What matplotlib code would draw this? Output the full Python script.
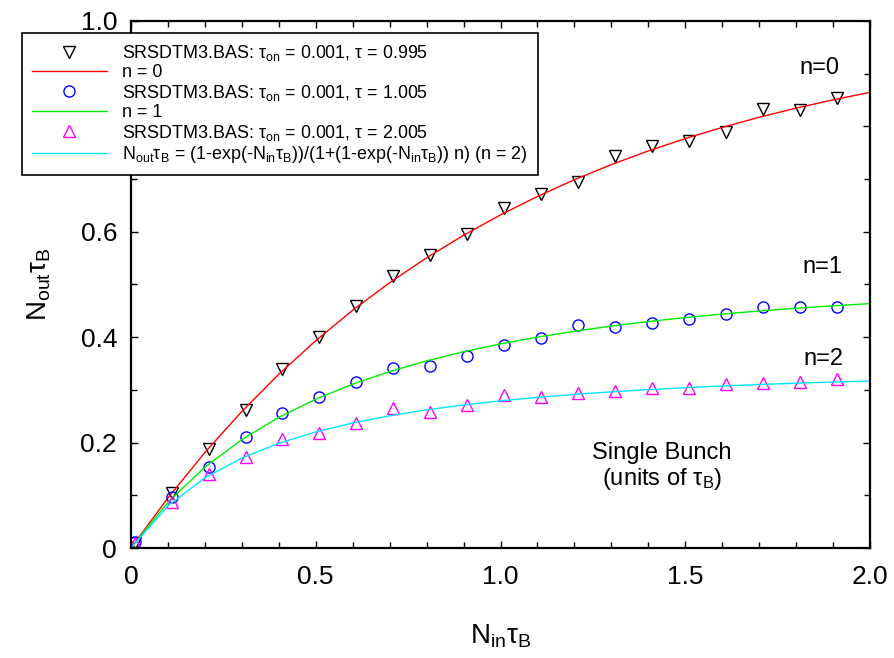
import numpy as np
import matplotlib
matplotlib.use("Agg")
import matplotlib.pyplot as plt
from matplotlib.ticker import MultipleLocator

plt.rcParams['font.family'] = ['Liberation Sans', 'DejaVu Sans']
plt.rcParams['mathtext.fontset'] = 'custom'
plt.rcParams['mathtext.rm'] = 'Liberation Sans'
plt.rcParams['mathtext.it'] = 'Liberation Sans'
plt.rcParams['mathtext.default'] = 'regular'

# ---- data ----
x_pts = [0.01, 0.11, 0.21, 0.31, 0.41, 0.51, 0.61, 0.71, 0.81, 0.91,
         1.01, 1.11, 1.21, 1.31, 1.41, 1.51, 1.61, 1.71, 1.81, 1.91]
y_tau0995 = [0.010, 0.104, 0.187, 0.262, 0.339, 0.400, 0.460, 0.516, 0.556, 0.596,
             0.646, 0.671, 0.694, 0.744, 0.763, 0.772, 0.790, 0.833, 0.831, 0.853]
y_tau1005 = [0.011, 0.096, 0.154, 0.211, 0.256, 0.287, 0.315, 0.341, 0.346, 0.364,
             0.386, 0.398, 0.423, 0.420, 0.426, 0.434, 0.444, 0.458, 0.457, 0.457]
y_tau2005 = [0.009, 0.087, 0.140, 0.173, 0.206, 0.219, 0.238, 0.266, 0.259, 0.271,
             0.290, 0.286, 0.295, 0.297, 0.303, 0.303, 0.311, 0.314, 0.315, 0.320]

x_line = [0.0, 0.1, 0.2, 0.3, 0.4, 0.5, 0.6, 0.7, 0.8, 0.9, 1.0,
          1.1, 1.2, 1.3, 1.4, 1.5, 1.6, 1.7, 1.8, 1.9, 2.0]
y_n0 = [0.0, 0.0952, 0.1813, 0.2592, 0.3297, 0.3935, 0.4512, 0.5034, 0.5507, 0.5934, 0.6321,
        0.6671, 0.6988, 0.7275, 0.7534, 0.7769, 0.7981, 0.8173, 0.8347, 0.8504, 0.8647]
y_n1 = [0.0, 0.0869, 0.1535, 0.2058, 0.2480, 0.2824, 0.3109, 0.3348, 0.3551, 0.3724, 0.3873,
        0.4002, 0.4113, 0.4211, 0.4297, 0.4372, 0.4439, 0.4497, 0.4549, 0.4596, 0.4637]
y_n2 = [0.0, 0.0800, 0.1331, 0.1707, 0.1987, 0.2202, 0.2372, 0.2508, 0.2621, 0.2714, 0.2792,
        0.2858, 0.2915, 0.2963, 0.3005, 0.3042, 0.3074, 0.3102, 0.3127, 0.3149, 0.3168]

labels = [
    r'SRSDTM3.BAS: $\tau_{on}$ = 0.001, $\tau$ = 0.995',
    'n = 0',
    r'SRSDTM3.BAS: $\tau_{on}$ = 0.001, $\tau$ = 1.005',
    'n = 1',
    r'SRSDTM3.BAS: $\tau_{on}$ = 0.001, $\tau$ = 2.005',
    r'$N_{out}\tau_B$ = (1-exp(-$N_{in}\tau_B$))/(1+(1-exp(-$N_{in}\tau_B$)) n) (n = 2)',
]
x_ticklabels = ['0', '0.5', '1.0', '1.5', '2.0']
y_ticklabels = ['0', '0.2', '0.4', '0.6', '0.8', '1.0']

fig = plt.figure(figsize=(8.94, 6.58), dpi=100)
ax = fig.add_axes([131/894, 1-548/658, (870-131)/894, (548-21)/658])

ax.plot(x_pts, y_tau0995, linestyle='none', marker='v', ms=9, mfc='none', mec='black', mew=1.0, label=labels[0])
ax.plot(x_line, y_n0, color='#ff0000', lw=1.0, label=labels[1])
ax.plot(x_pts, y_tau1005, linestyle='none', marker='o', ms=8, mfc='none', mec='#0000ff', mew=1.0, label=labels[2])
ax.plot(x_line, y_n1, color='#00ee00', lw=1.0, label=labels[3])
ax.plot(x_pts, y_tau2005, linestyle='none', marker='^', ms=9, mfc='none', mec='#ff00ff', mew=1.0, label=labels[4])
ax.plot(x_line, y_n2, color='#00e5ff', lw=1.0, label=labels[5])

ax.set_xlim(0, 2.0)
ax.set_ylim(0, 1.0)
ax.set_xticks([0, 0.5, 1.0, 1.5, 2.0])
ax.set_xticklabels(x_ticklabels)
ax.set_yticks([0, 0.2, 0.4, 0.6, 0.8, 1.0])
ax.set_yticklabels(y_ticklabels)
ax.xaxis.set_minor_locator(MultipleLocator(0.1))
ax.yaxis.set_minor_locator(MultipleLocator(0.1))
ax.tick_params(which='both', direction='in', top=True, right=True, width=1.0)
ax.tick_params(which='major', length=5)
ax.tick_params(which='minor', length=4)
ax.tick_params(axis='y', which='major', labelsize=19, pad=10)
ax.tick_params(axis='x', which='major', labelsize=19, pad=12)
for s in ax.spines.values():
    s.set_linewidth(1.6)

ax.set_xlabel(r'$N_{in}\tau_B$', fontsize=20)
ax.set_ylabel(r'$N_{out}\tau_B$', fontsize=20)
ax.xaxis.set_label_coords(0.5, -0.142)
ax.yaxis.set_label_coords(-0.106, 0.5)

ax.text(1.808, 0.899, 'n=0', fontsize=17, ha='left', va='baseline')
ax.text(1.816, 0.522, 'n=1', fontsize=17, ha='left', va='baseline')
ax.text(1.820, 0.347, 'n=2', fontsize=17, ha='left', va='baseline')
ax.text(1.437, 0.169, 'Single Bunch', fontsize=17, ha='center', va='baseline')
ax.text(1.437, 0.120, r'(units of $\tau_B$)', fontsize=17, ha='center', va='baseline')

leg = fig.legend(loc='upper left', bbox_to_anchor=(22/894, 1-33/658), borderaxespad=0,
                 fontsize=12.9, frameon=True, fancybox=False, framealpha=1, edgecolor='black',
                 numpoints=1, handlelength=4.2, handletextpad=0.85, labelspacing=0.08,
                 borderpad=0.55)
leg.get_frame().set_linewidth(1.2)

fig.savefig('out.png', dpi=100)
